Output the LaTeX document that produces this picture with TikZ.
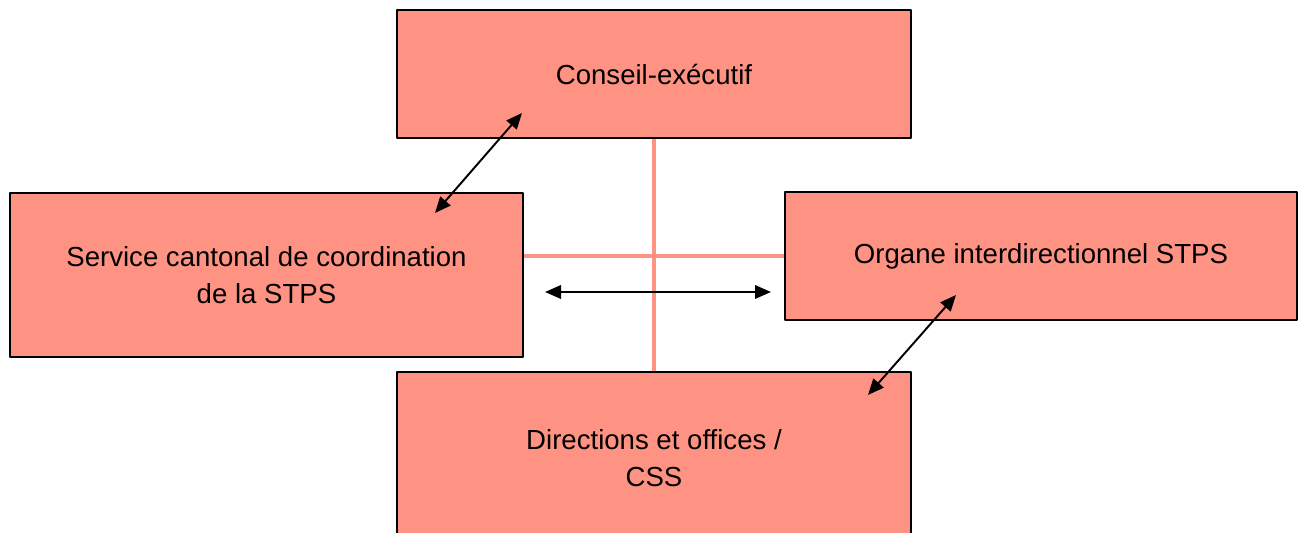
\documentclass[tikz,border=0pt]{standalone}
\usepackage{fontspec}
\setmainfont{Liberation Sans}
\usetikzlibrary{arrows.meta}
\definecolor{saumon}{RGB}{254,147,132}
\tikzset{
	boite/.style={draw=black, fill=saumon, line width=1pt, inner sep=0pt, align=center,
		minimum width=#1},
	boite/.default=10.27cm,
	liaison/.style={draw=saumon, line width=2.6pt},
	fleche/.style={{Triangle[length=0.32cm,width=0.27cm]}-{Triangle[length=0.32cm,width=0.27cm]}, line width=1.1pt}
}
\begin{document}
\begin{tikzpicture}[x=0.02cm, y=-0.02cm, font={\fontsize{15.7pt}{21pt}\selectfont}, line join=round]
		% cadre
		\useasboundingbox (0,0) rectangle (1303,533);
		\clip (0,0) rectangle (1303,533);
		% boites
		\node[boite, minimum height=2.56cm] (conseil) at (654,74) {Conseil-exécutif};
		\node[boite, minimum height=3.28cm] (service) at (266.5,275) {Service cantonal de coordination\\de la STPS};
		\node[boite=10.24cm, minimum height=2.56cm] (organe) at (1041,256) {Organe interdirectionnel STPS};
		\node[boite, minimum height=3.46cm] (directions) at (654,458.5) {Directions et offices /\\CSS};
		% liaisons
		\draw[liaison] (conseil.south) -- (directions.north);
		\draw[liaison] (service.east |- organe.west) -- (organe.west);
		% fleches
		\coordinate (f1a) at (435,213);
		\coordinate (f1b) at (522,113);
		\coordinate (f2a) at (545,292);
		\coordinate (f2b) at (771,292);
		\coordinate (f3a) at (868,395);
		\coordinate (f3b) at (956,295);
		\draw[fleche] (f1a) -- (f1b);
		\draw[fleche] (f2a) -- (f2b);
		\draw[fleche] (f3a) -- (f3b);
	\end{tikzpicture}
\end{document}
